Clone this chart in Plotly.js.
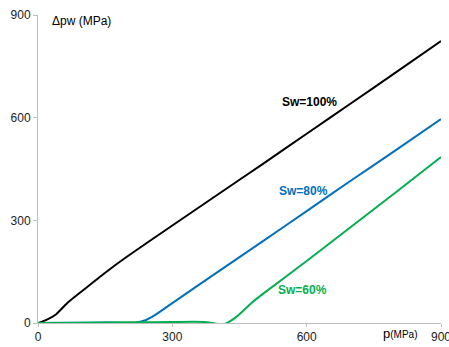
<!DOCTYPE html>
<html><head><meta charset="utf-8">
<script src="https://cdn.plot.ly/plotly-3.0.1.min.js"></script>
<style>body{margin:0;background:#fff}#c{width:449px;height:347px}</style>
</head><body><div id="c"></div>
<script>
const p100 = [0, 20, 40, 50, 65, 100, 150, 200, 300, 400, 500, 600, 700, 800, 900];
const dpw100 = [0, 10, 25, 38, 58, 95, 147, 195, 285, 374, 463, 553, 643, 733, 824];
const p80 = [0, 100, 180, 200, 215, 240, 260, 280, 300, 400, 500, 600, 700, 800, 900];
const dpw80 = [0, 1, 1, -1, 0, 8, 22, 40, 58, 148, 237, 327, 417, 506, 596];
const p60 = [0, 100, 200, 300, 370, 390, 405, 420, 440, 460, 480, 500, 600, 700, 800, 900];
const dpw60 = [0, 1, 2, 3, 3, 0, -3, -1, 15, 38, 62, 83, 181, 282, 383, 485];
const labels = ["Sw=100%", "Sw=80%", "Sw=60%"];
const colors = ["#000000", "#0070C0", "#00B050"];
const labelX = [607, 592, 590];
const labelY = [646, 386, 96];
const xTicks = [0, 300, 600, 900];
const yTicks = [0, 300, 600, 900];

const xs = [p100, p80, p60], ys = [dpw100, dpw80, dpw60];
const traces = xs.map((x, i) => ({
  x: x, y: ys[i], mode: 'lines', type: 'scatter',
  line: {color: colors[i], width: 2, shape: 'spline', smoothing: 0.6},
  hoverinfo: 'skip', cliponaxis: false
}));
const ann = labels.map((t, i) => ({
  x: labelX[i], y: labelY[i], xref: 'x', yref: 'y', text: '<b>' + t + '</b>',
  showarrow: false, font: {family: 'Arial, Liberation Sans', size: 12, color: colors[i]}
}));
ann.push({x: 27, y: 882, xref: 'x', yref: 'y', xanchor: 'left', text: 'Δpw (MPa)', showarrow: false,
  font: {family: 'Arial, Liberation Sans', size: 12, color: '#000'}});
ann.push({x: 808, y: -0.002, xref: 'x', yref: 'paper', yanchor: 'top', text: 'p<span style="font-size:10px">(MPa)</span>', showarrow: false,
  font: {family: 'Arial, Liberation Sans', size: 13, color: '#000'}});

const layout = {
  width: 449, height: 347,
  margin: {l: 38, r: 8, t: 15, b: 24},
  paper_bgcolor: '#fff', plot_bgcolor: '#fff',
  showlegend: false,
  font: {family: 'Arial, Liberation Sans', size: 12, color: '#222'},
  xaxis: {range: [0, 900], tickvals: xTicks, showgrid: false, zeroline: false, ticklabeloverflow: 'allow',
    showline: true, linecolor: '#bfbfbf', linewidth: 1, ticks: 'outside', ticklen: 3, tickcolor: '#bfbfbf'},
  yaxis: {range: [0, 900], tickvals: yTicks, showgrid: false, zeroline: false,
    showline: true, linecolor: '#bfbfbf', linewidth: 1, ticks: 'outside', ticklen: 4, tickcolor: '#bfbfbf'},
  annotations: ann
};
Plotly.newPlot('c', traces, layout, {displayModeBar: false, staticPlot: true});
</script></body></html>
